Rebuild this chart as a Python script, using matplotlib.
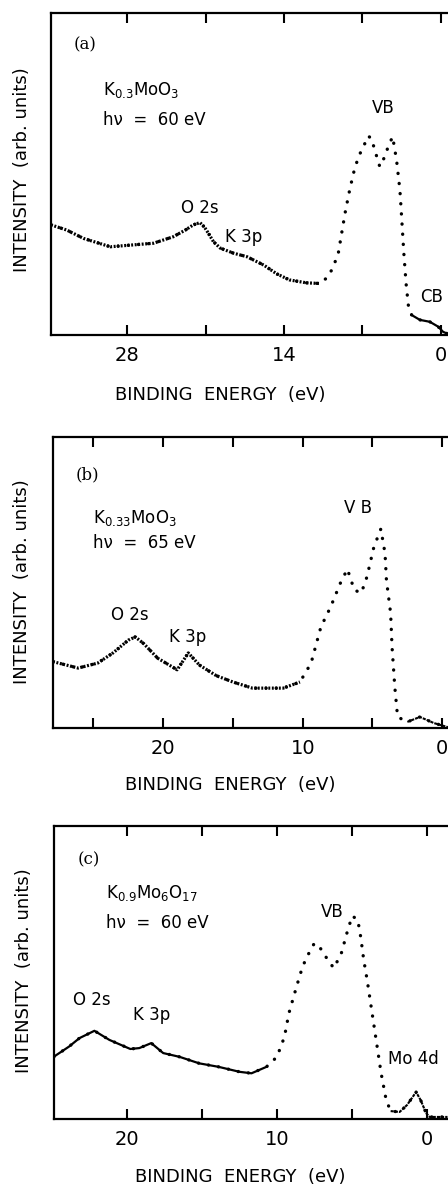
import numpy as np
import matplotlib
matplotlib.use("Agg")
import matplotlib.pyplot as plt

plt.rcParams['font.family'] = ['DejaVu Sans']
plt.rcParams['mathtext.fontset'] = 'dejavusans'

W, H = 448, 1185

# ---------- data (binding energy in eV, intensity arb.) ----------
energy_a = [34.8, 33.4, 31.9, 29.5, 27.4, 25.65, 23.9, 22.8, 22.1, 21.5, 21.1, 20.75,
            20.3, 19.7, 18.5, 17.3, 15.8, 14.65, 13.5, 12.0, 10.8, 10.05, 9.6, 9.15,
            8.85, 8.55, 8.2, 7.8, 7.35, 6.9, 6.5, 6.2, 5.9, 5.45, 5.0, 4.7, 4.3, 3.95,
            3.65, 3.5, 3.3, 3.1, 2.9, 2.6, 1.87, 0.98, 0.24, -0.2, -0.65]
inten_a = [0.342, 0.326, 0.300, 0.274, 0.280, 0.285, 0.305, 0.326, 0.342, 0.349, 0.335, 0.316,
           0.290, 0.270, 0.254, 0.243, 0.217, 0.190, 0.171, 0.162, 0.160, 0.181, 0.212, 0.254,
           0.316, 0.378, 0.440, 0.502, 0.554, 0.585, 0.618, 0.611, 0.575, 0.523, 0.554, 0.585,
           0.616, 0.543, 0.450, 0.367, 0.254, 0.160, 0.093, 0.062, 0.047, 0.041, 0.026, 0.010, 0.003]

energy_b = [27.9, 26.1, 24.7, 23.6, 22.5, 22.0, 21.4, 20.4, 19.0, 18.2, 17.4, 16.2, 15.0,
            13.6, 11.4, 10.2, 9.4, 8.7, 8.0, 7.3, 6.8, 6.3, 5.8, 5.4, 4.9, 4.4, 4.1, 4.0,
            3.7, 3.6, 3.4, 3.2, 2.5, 1.6, 0.6, -0.4]
inten_b = [0.228, 0.206, 0.223, 0.258, 0.302, 0.313, 0.290, 0.240, 0.200, 0.258, 0.216, 0.180,
           0.158, 0.137, 0.137, 0.158, 0.223, 0.347, 0.416, 0.498, 0.546, 0.474, 0.464, 0.519,
           0.622, 0.684, 0.600, 0.508, 0.395, 0.280, 0.141, 0.038, 0.021, 0.038, 0.017, 0.003]

energy_c = [24.9, 23.9, 23.2, 22.2, 21.2, 19.8, 19.2, 18.4, 17.6, 16.5, 15.2, 13.9, 12.5,
            11.7, 10.7, 10.0, 9.5, 9.2, 8.7, 8.3, 8.0, 7.5, 7.1, 6.6, 6.2, 5.7, 5.3, 4.97,
            4.6, 4.4, 4.2, 3.97, 3.7, 3.5, 3.3, 3.04, 2.7, 2.4, 1.8, 1.3, 0.7, 0.4, 0.03,
            -0.2, -1.4]
inten_c = [0.213, 0.247, 0.276, 0.301, 0.270, 0.239, 0.242, 0.259, 0.225, 0.212, 0.190, 0.178,
           0.161, 0.156, 0.178, 0.212, 0.280, 0.361, 0.450, 0.518, 0.553, 0.600, 0.583, 0.543,
           0.515, 0.565, 0.639, 0.693, 0.680, 0.621, 0.543, 0.474, 0.382, 0.314, 0.246, 0.157,
           0.065, 0.027, 0.024, 0.048, 0.092, 0.065, 0.020, 0.007, 0.007]

xlims = [(34.8, -1.0), (27.9, -0.7), (24.9, -1.7)]
tick_pos = [[28, 21, 14, 7, 0], [25, 20, 15, 10, 5, 0], [20, 15, 10, 5, 0]]
tick_lab = [["28", "", "14", "", "0"], ["", "20", "", "10", "", "0"], ["20", "", "10", "", "0"]]
panel_tags = ["(a)", "(b)", "(c)"]
compounds = ["K$_{0.3}$MoO$_3$", "K$_{0.33}$MoO$_{3}$", "K$_{0.9}$Mo$_6$O$_{17}$"]
photon = ["hν  =  60 eV", "hν  =  65 eV", "hν  =  60 eV"]


def fx(x):
    return x / W


def fy(y):
    return 1 - y / H


fig = plt.figure(figsize=(W / 100, H / 100), dpi=100)

# axes boxes in pixels: left, top, bottom (right runs off the page)
boxes = [(51, 13, 335), (53, 437, 728), (54, 826, 1119)]
axs = []
for (l, t, b) in boxes:
    ax = fig.add_axes([fx(l), fy(b), (452 - l) / W, (b - t) / H])
    axs.append(ax)

series = [(energy_a, inten_a, 10.5, None), (energy_b, inten_b, 10.0, 2.6), (energy_c, inten_c, 10.3, 2.5)]

for i, ax in enumerate(axs):
    e = np.array(series[i][0])
    y = np.array(series[i][1])
    # sparse dotted trace for the whole spectrum
    ax.plot(e, y, color='black', lw=2.4, linestyle=(0, (0.05, 3.0)), dash_capstyle='round')
    # denser trace where the measured points crowd together
    hi = e >= series[i][2]
    if i == 2:
        ax.plot(e[hi], y[hi], color='black', lw=1.6)
    else:
        ax.plot(e[hi], y[hi], color='black', lw=2.3, linestyle=(0, (0.6, 0.5)))
    if series[i][3] is not None:
        lo = e <= series[i][3]
        ax.plot(e[lo], y[lo], color='black', lw=1.5, linestyle=(0, (1.5, 0.5)))
    else:
        lo = e <= 2.7
        ax.plot(e[lo], y[lo], color='black', lw=1.6)

    ax.set_xlim(*xlims[i])
    ax.set_ylim(0, 1)
    ax.set_xticks(tick_pos[i])
    ax.set_xticklabels(tick_lab[i])
    ax.set_yticks([])
    ax.tick_params(axis='x', direction='in', top=True, bottom=True, length=7, width=1.5,
                   labelsize=14, pad=8)
    for sp in ax.spines.values():
        sp.set_linewidth(1.6)

# ---------- labels ----------
xlab_pos = [(220, 395), (230, 785), (240, 1177)]
ylab_pos = [(22, 170), (22, 582), (24, 971)]
for i in range(3):
    fig.text(fx(xlab_pos[i][0]), fy(xlab_pos[i][1]), "BINDING  ENERGY  (eV)",
             ha='center', va='center', fontsize=13)
    fig.text(fx(ylab_pos[i][0]), fy(ylab_pos[i][1]), "INTENSITY  (arb. units)",
             ha='center', va='center', rotation=90, fontsize=13)

tag_pos = [(85, 45), (87, 475), (89, 860)]
comp_pos = [(103, 90), (93, 518), (106, 893)]
hv_pos = [(103, 120), (93, 543), (106, 923)]
for i in range(3):
    fig.text(fx(tag_pos[i][0]), fy(tag_pos[i][1]), panel_tags[i], family='DejaVu Serif',
             ha='center', va='center', fontsize=12)
    fig.text(fx(comp_pos[i][0]), fy(comp_pos[i][1]), compounds[i], ha='left', va='center',
             fontsize=12)
    fig.text(fx(hv_pos[i][0]), fy(hv_pos[i][1]), photon[i], ha='left', va='center', fontsize=12)

peak_labels = [
    ("VB", 383, 108), ("O 2s", 200, 208), ("K 3p", 244, 237), ("CB", 432, 297),
    ("V B", 358, 508), ("O 2s", 130, 615), ("K 3p", 188, 637),
    ("VB", 332, 912), ("O 2s", 92, 1000), ("K 3p", 152, 1015), ("Mo 4d", 413, 1059),
]
for txt, x, y in peak_labels:
    fig.text(fx(x), fy(y), txt, ha='center', va='center', fontsize=12)

fig.savefig("out.png", dpi=100)
